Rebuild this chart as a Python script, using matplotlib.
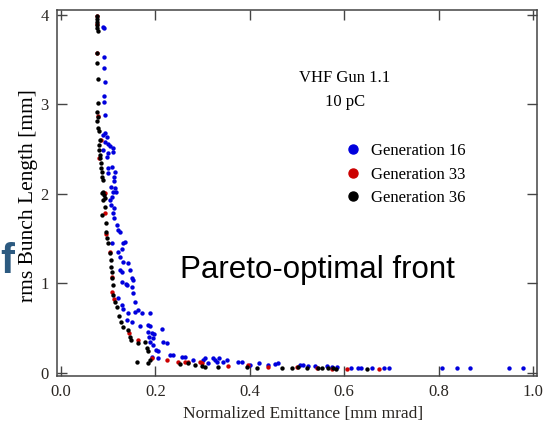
import matplotlib
matplotlib.use("Agg")
import matplotlib.pyplot as plt
from matplotlib.lines import Line2D

# ---------------- data ----------------
gen16_x = [0.089, 0.091, 0.091, 0.091, 0.093, 0.091, 0.091, 0.093, 0.093, 0.089, 0.097, 0.093,
           0.099, 0.104, 0.110, 0.110, 0.089, 0.099, 0.097, 0.099, 0.108, 0.114, 0.099, 0.112,
           0.112, 0.106, 0.114, 0.116, 0.108, 0.110, 0.104, 0.106, 0.112, 0.110, 0.112, 0.119,
           0.121, 0.125, 0.108, 0.131, 0.135, 0.129, 0.121, 0.125, 0.131, 0.142, 0.146, 0.125,
           0.129, 0.150, 0.129, 0.140, 0.153, 0.138, 0.150, 0.153, 0.121, 0.129, 0.157, 0.131,
           0.142, 0.157, 0.163, 0.171, 0.189, 0.140, 0.150, 0.167, 0.184, 0.189, 0.214, 0.184,
           0.193, 0.197, 0.186, 0.195, 0.189, 0.216, 0.224, 0.195, 0.201, 0.205, 0.231, 0.237,
           0.193, 0.205, 0.256, 0.263, 0.280, 0.300, 0.322, 0.330, 0.305, 0.312, 0.326, 0.335,
           0.343, 0.352, 0.375, 0.383, 0.400, 0.419, 0.439, 0.453, 0.460, 0.506, 0.513, 0.523,
           0.538, 0.563, 0.574, 0.585, 0.614, 0.629, 0.636, 0.659, 0.684, 0.695, 0.807, 0.839,
           0.867, 0.949, 0.979]
gen16_y = [3.87, 3.85, 3.53, 3.41, 3.25, 3.10, 3.03, 2.88, 2.68, 2.66, 2.64, 2.58,
           2.56, 2.54, 2.51, 2.47, 2.49, 2.46, 2.41, 2.29, 2.30, 2.25, 2.23, 2.19,
           2.15, 2.08, 2.07, 2.02, 1.97, 2.02, 1.93, 1.88, 1.84, 1.79, 1.73, 1.65,
           1.60, 1.58, 1.45, 1.45, 1.46, 1.39, 1.35, 1.30, 1.24, 1.23, 1.15, 1.15,
           1.13, 1.06, 1.02, 0.98, 1.04, 0.99, 0.96, 0.89, 0.84, 0.76, 0.79, 0.72,
           0.67, 0.68, 0.70, 0.67, 0.67, 0.59, 0.57, 0.52, 0.54, 0.53, 0.49, 0.46,
           0.45, 0.43, 0.40, 0.39, 0.35, 0.35, 0.33, 0.31, 0.26, 0.24, 0.20, 0.20,
           0.18, 0.17, 0.18, 0.18, 0.15, 0.15, 0.17, 0.12, 0.17, 0.11, 0.15, 0.17,
           0.12, 0.14, 0.12, 0.12, 0.09, 0.11, 0.09, 0.10, 0.11, 0.09, 0.09, 0.08,
           0.08, 0.08, 0.07, 0.07, 0.06, 0.06, 0.06, 0.05, 0.05, 0.06, 0.05, 0.06,
           0.05, 0.05, 0.05]

gen33_x = [0.076, 0.077, 0.077, 0.078, 0.085, 0.081, 0.093, 0.093, 0.095, 0.104, 0.108, 0.108,
           0.112, 0.144, 0.163, 0.193, 0.225, 0.248, 0.263, 0.270, 0.295, 0.298, 0.354, 0.396,
           0.439, 0.500, 0.542, 0.574, 0.606, 0.674]
gen33_y = [3.99, 3.90, 3.57, 2.87, 2.60, 2.40, 2.01, 1.79, 1.55, 1.35, 1.07, 0.90,
           0.83, 0.45, 0.37, 0.17, 0.15, 0.12, 0.12, 0.12, 0.12, 0.11, 0.08, 0.09,
           0.07, 0.07, 0.06, 0.045, 0.045, 0.045]

gen36_x = [0.076, 0.076, 0.076, 0.076, 0.076, 0.078, 0.076, 0.076, 0.078, 0.078, 0.076, 0.078,
           0.076, 0.078, 0.080, 0.082, 0.080, 0.080, 0.082, 0.082, 0.085, 0.085, 0.087, 0.087,
           0.089, 0.089, 0.087, 0.091, 0.093, 0.089, 0.087, 0.093, 0.095, 0.095, 0.097, 0.100,
           0.104, 0.106, 0.106, 0.108, 0.108, 0.110, 0.110, 0.114, 0.119, 0.123, 0.127, 0.131,
           0.142, 0.146, 0.148, 0.163, 0.178, 0.182, 0.184, 0.161, 0.189, 0.184, 0.252, 0.269,
           0.284, 0.299, 0.305, 0.333, 0.394, 0.415, 0.468, 0.489, 0.502, 0.521, 0.545, 0.553,
           0.566, 0.577, 0.582, 0.648]
gen36_y = [3.99, 3.96, 3.92, 3.89, 3.85, 3.82, 3.57, 3.46, 3.28, 3.02, 2.92, 2.86,
           2.82, 2.74, 2.70, 2.60, 2.55, 2.49, 2.44, 2.40, 2.35, 2.29, 2.25, 2.19,
           2.16, 2.02, 2.01, 1.99, 1.96, 1.93, 1.77, 1.85, 1.68, 1.58, 1.51, 1.45,
           1.34, 1.26, 1.18, 1.13, 1.06, 0.98, 0.87, 0.79, 0.74, 0.64, 0.57, 0.51,
           0.48, 0.40, 0.37, 0.33, 0.35, 0.28, 0.25, 0.12, 0.15, 0.11, 0.10, 0.11,
           0.09, 0.08, 0.07, 0.07, 0.07, 0.06, 0.06, 0.06, 0.07, 0.06, 0.05, 0.05,
           0.05, 0.05, 0.045, 0.045]

x_ticks = [0.0, 0.2, 0.4, 0.6, 0.8, 1.0]
x_ticklabels = ["0.0", "0.2", "0.4", "0.6", "0.8", "1.0"]
y_ticks = [0, 1, 2, 3, 4]
y_ticklabels = ["0", "1", "2", "3", "4"]

series_labels = ["Generation 16", "Generation 33", "Generation 36"]
series_colors = ["#0000dd", "#cc0000", "#000000"]

# ---------------- figure ----------------
W, H = 545, 428
fig = plt.figure(figsize=(W / 100, H / 100), dpi=100)
ax = fig.add_axes([57 / W, 1 - 376 / H, 480 / W, 366 / H])

serif = "Liberation Serif"
tick_color = "#2a2622"

for xs, ys, c in [(gen16_x, gen16_y, series_colors[0]),
                  (gen33_x, gen33_y, series_colors[1]),
                  (gen36_x, gen36_y, series_colors[2])]:
    ax.scatter(xs, ys, s=10, color=c, linewidths=0, zorder=3)

ax.set_xlim(-0.008, 1.008)
ax.set_ylim(-0.034, 4.056)
ax.set_xticks(x_ticks)
ax.set_xticklabels(x_ticklabels, fontfamily=serif, fontsize=12, color=tick_color)
ax.set_yticks(y_ticks)
ax.set_yticklabels(y_ticklabels, fontfamily=serif, fontsize=12, color=tick_color)
ax.tick_params(direction="in", length=7, width=1, color="#444444",
               top=True, right=True, pad=6)

for sp in ax.spines.values():
    sp.set_color("#444444")
    sp.set_linewidth(1.1)

ax.set_xlabel("Normalized Emittance [mm mrad]", fontfamily=serif, fontsize=12.5,
              color=tick_color)
ax.xaxis.set_label_coords((303 - 57) / 480, (376 - 406) / 366)
ax.set_ylabel("rms Bunch Length [mm]", fontfamily=serif, fontsize=15.5, color="#000000",
              va="center")
ax.yaxis.set_label_coords((29 - 57) / 480, (376 - 196) / 366)

# annotations
ax.text((345 - 57) / 480, (376 - 78) / 366, "VHF Gun 1.1", transform=ax.transAxes,
        ha="center", va="center", fontfamily=serif, fontsize=12)
ax.text((345 - 57) / 480, (376 - 102) / 366, "10 pC", transform=ax.transAxes,
        ha="center", va="center", fontfamily=serif, fontsize=12)

handles = [Line2D([], [], linestyle="none", marker="o", markersize=6.5,
                  markerfacecolor=c, markeredgecolor=c) for c in series_colors]
leg = ax.legend(handles, series_labels, loc="upper left",
                bbox_to_anchor=(336 / W, 1 - 135 / H), bbox_transform=fig.transFigure,
                frameon=False, borderpad=0, handlelength=1.0, handletextpad=0.6,
                labelspacing=0.45, prop={"family": serif, "size": 12})

ax.text((180 - 57) / 480, (376 - 270) / 366, "Pareto-optimal front",
        transform=ax.transAxes, ha="left", va="center",
        fontfamily="Liberation Sans", fontsize=22.5, color="#000000")

# cut-off slide letter at the far left
fig.text(14 / W, 1 - 262 / H, "f", ha="right", va="center", fontfamily="Liberation Sans",
         fontweight="bold", fontsize=30, color="#2c5a80")

fig.savefig("out.png", dpi=100)
